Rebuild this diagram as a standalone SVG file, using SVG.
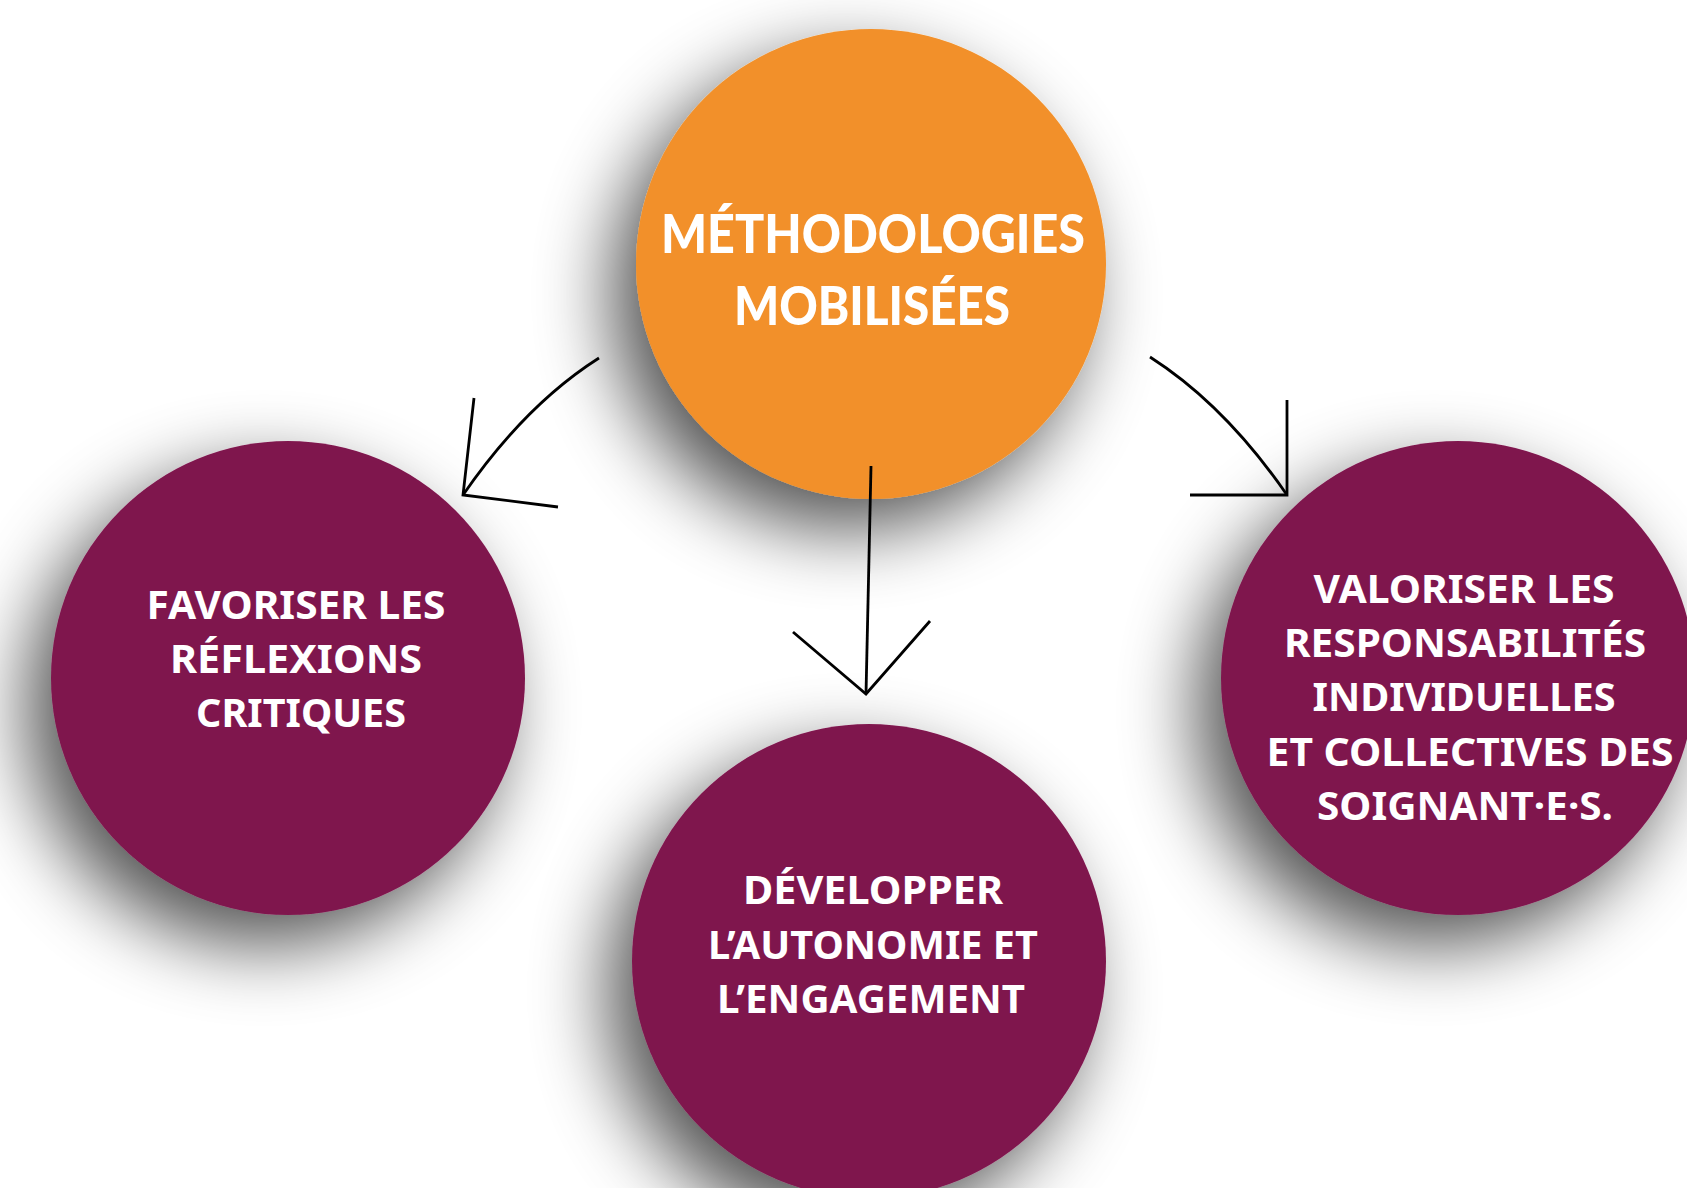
<svg xmlns="http://www.w3.org/2000/svg" width="1687" height="1188" viewBox="0 0 1687 1188">
  <defs>
    <filter id="soft-shadow" x="-60%" y="-60%" width="220%" height="220%">
      <feGaussianBlur in="SourceAlpha" stdDeviation="38"/>
      <feOffset dx="-24" dy="30" result="blur"/>
      <feComponentTransfer>
        <feFuncA type="linear" slope="0.68"/>
      </feComponentTransfer>
      <feMerge>
        <feMergeNode/>
        <feMergeNode in="SourceGraphic"/>
      </feMerge>
    </filter>
  </defs>
  <style>
    .hub { fill: #F29029; }
    .goal { fill: #7F164E; }
    .label { font-family: "Noto Sans", "Open Sans", sans-serif; font-weight: 700; font-size: 40px; fill: #FFFFFF; text-anchor: middle; }
    .title { font-family: "Lato", "Noto Sans", sans-serif; font-weight: 900; font-size: 54px; fill: #FFFFFF; }
    .link { fill: none; stroke: #000000; stroke-width: 2.8; stroke-linecap: butt; stroke-linejoin: miter; }
  </style>

  <rect width="1687" height="1188" fill="#FFFFFF"/>

  <!-- central node -->
  <g id="node-methodologies">
    <circle class="hub" cx="871" cy="264" r="235" filter="url(#soft-shadow)"/>
    <text class="title" x="661" y="253" textLength="424" lengthAdjust="spacingAndGlyphs">MÉTHODOLOGIES</text>
    <text class="title" x="734" y="325" textLength="276" lengthAdjust="spacingAndGlyphs">MOBILISÉES</text>
  </g>

  <!-- left node -->
  <g id="node-reflexions">
    <circle class="goal" cx="288" cy="678" r="237" filter="url(#soft-shadow)"/>
    <text class="label" x="296" y="619" textLength="299" lengthAdjust="spacingAndGlyphs">FAVORISER LES</text>
    <text class="label" x="296" y="673" textLength="252" lengthAdjust="spacingAndGlyphs">RÉFLEXIONS</text>
    <text class="label" x="301" y="727" textLength="210" lengthAdjust="spacingAndGlyphs">CRITIQUES</text>
  </g>

  <!-- bottom node -->
  <g id="node-autonomie">
    <circle class="goal" cx="869" cy="961" r="237" filter="url(#soft-shadow)"/>
    <text class="label" x="873" y="904" textLength="260" lengthAdjust="spacingAndGlyphs">DÉVELOPPER</text>
    <text class="label" x="873" y="959" textLength="330" lengthAdjust="spacingAndGlyphs">L’AUTONOMIE ET</text>
    <text class="label" x="871" y="1013" textLength="308" lengthAdjust="spacingAndGlyphs">L’ENGAGEMENT</text>
  </g>

  <!-- right node -->
  <g id="node-responsabilites">
    <circle class="goal" cx="1458" cy="678" r="237" filter="url(#soft-shadow)"/>
    <text class="label" x="1464" y="603" textLength="301" lengthAdjust="spacingAndGlyphs">VALORISER LES</text>
    <text class="label" x="1465" y="657" textLength="362" lengthAdjust="spacingAndGlyphs">RESPONSABILITÉS</text>
    <text class="label" x="1464" y="711" textLength="303" lengthAdjust="spacingAndGlyphs">INDIVIDUELLES</text>
    <text class="label" x="1470" y="766" textLength="407" lengthAdjust="spacingAndGlyphs">ET COLLECTIVES DES</text>
    <text class="label" x="1465" y="820" textLength="296" lengthAdjust="spacingAndGlyphs">SOIGNANT·E·S.</text>
  </g>

  <!-- connectors -->
  <g id="connectors">
    <path class="link" d="M599 358 Q525 405 463 495"/>
    <path class="link" d="M474 398 L463 495 L558 507"/>
    <path class="link" d="M871 466 L866 694"/>
    <path class="link" d="M793 632 L866 694 L930 621"/>
    <path class="link" d="M1150 357 Q1225 405 1287 495"/>
    <path class="link" d="M1287 400 L1287 495 L1190 495"/>
  </g>
</svg>
